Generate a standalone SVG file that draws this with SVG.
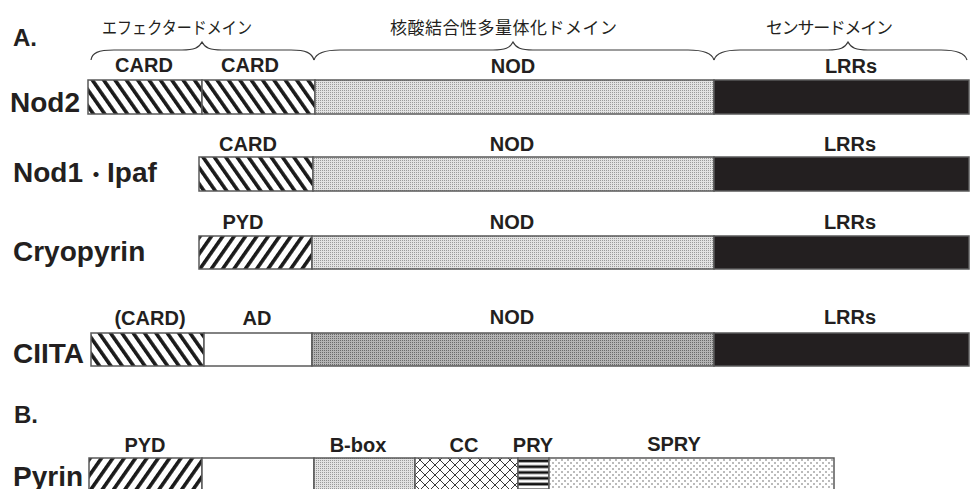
<svg xmlns="http://www.w3.org/2000/svg" width="971" height="489" viewBox="0 0 971 489">
<style>
.lbl{font-family:"Liberation Sans",Arial,sans-serif;font-weight:bold;font-size:28px;fill:#231f20}
.sec{font-family:"Liberation Sans",Arial,sans-serif;font-weight:bold;font-size:24px;fill:#231f20}
.dom{font-family:"Liberation Sans",Arial,sans-serif;font-weight:bold;font-size:20px;fill:#231f20;text-anchor:middle}
.jp{font-family:"Noto Sans CJK JP","Noto Sans CJK SC",sans-serif;font-size:17px;fill:#231f20}
.seg{stroke:#5a5a5a;stroke-width:1.5}
.brace{fill:none;stroke:#3a3a3a;stroke-width:1.2}
</style>
<defs>
<pattern id="hatchBack" patternUnits="userSpaceOnUse" width="9.3" height="20" patternTransform="rotate(-35)">
<rect width="9.3" height="20" fill="#fff"/><rect width="3.6" height="20" fill="#1a1a1a"/>
</pattern>
<pattern id="hatchFwd" patternUnits="userSpaceOnUse" width="9.3" height="20" patternTransform="rotate(35)">
<rect width="9.3" height="20" fill="#fff"/><rect width="3.6" height="20" fill="#1a1a1a"/>
</pattern>
<pattern id="nodLight" patternUnits="userSpaceOnUse" width="2" height="2">
<rect width="2" height="2" fill="#e2e2e2"/><rect width="1" height="1" fill="#9a9a9a"/>
</pattern>
<pattern id="nodDark" patternUnits="userSpaceOnUse" width="2" height="2">
<rect width="2" height="2" fill="#b4b4b4"/><rect width="1" height="1" fill="#6a6a6a"/>
</pattern>
<pattern id="cross" patternUnits="userSpaceOnUse" width="10" height="10">
<rect width="10" height="10" fill="#fff"/><path d="M0,0 L10,10 M10,0 L0,10" stroke="#222" stroke-width="0.9"/>
</pattern>
<pattern id="hstripe" patternUnits="userSpaceOnUse" width="10" height="5.8" y="458">
<rect width="10" height="5.8" fill="#fff"/><rect y="1.5" width="10" height="2.8" fill="#111"/>
</pattern>
<pattern id="dots" patternUnits="userSpaceOnUse" width="6" height="6">
<rect width="6" height="6" fill="#fff"/><circle cx="1" cy="1" r="0.75" fill="#555"/><circle cx="4" cy="4" r="0.75" fill="#555"/>
</pattern>
</defs>
<rect width="971" height="489" fill="#fff"/>

<text class="sec" x="13" y="46">A.</text>
<text class="sec" x="14" y="423">B.</text>

<g id="braces">
<text class="jp" x="102" y="34" textLength="150" lengthAdjust="spacingAndGlyphs">エフェクタードメイン</text>
<text class="jp" x="390" y="34" textLength="227" lengthAdjust="spacing">核酸結合性多量体化ドメイン</text>
<text class="jp" x="766" y="34" textLength="127" lengthAdjust="spacing">センサードメイン</text>
<path class="brace" d="M91,60 C92,53 98,50 114,50 L182,50 C194,50 199,48 202,42 C205,48 210,50 222,50 L291,50 C306,50 312,53 314,60"/>
<path class="brace" d="M314,60 C316,53 324,50 340,50 L493,50 C505,50 510,48 513,42 C516,48 521,50 533,50 L688,50 C704,50 712,53 714,60"/>
<path class="brace" d="M714,60 C716,53 724,50 740,50 L828,50 C840,50 845,48 848,42 C851,48 856,50 868,50 L941,50 C957,50 965,53 967,60"/>
</g>

<g id="nod2">
<text class="lbl" x="10" y="112">Nod2</text>
<text class="dom" x="144" y="72">CARD</text>
<text class="dom" x="250" y="72">CARD</text>
<text class="dom" x="513" y="73">NOD</text>
<text class="dom" x="851" y="73">LRRs</text>
<rect class="seg" x="88" y="80" width="114" height="34" fill="url(#hatchBack)"/>
<rect class="seg" x="202" y="80" width="113" height="34" fill="url(#hatchBack)"/>
<rect class="seg" x="315" y="80" width="399" height="34" fill="url(#nodLight)"/>
<rect class="seg" x="714" y="80" width="255" height="34" fill="#231f20"/>
</g>

<g id="nod1">
<text class="lbl" x="13" y="182"><tspan>Nod1</tspan><tspan x="86" font-family="'Noto Sans CJK JP',sans-serif" font-size="20">・</tspan><tspan x="107">Ipaf</tspan></text>
<text class="dom" x="248" y="151">CARD</text>
<text class="dom" x="512" y="151">NOD</text>
<text class="dom" x="850" y="151">LRRs</text>
<rect class="seg" x="199" y="157" width="114" height="34" fill="url(#hatchBack)"/>
<rect class="seg" x="313" y="157" width="401" height="34" fill="url(#nodLight)"/>
<rect class="seg" x="714" y="157" width="255" height="34" fill="#231f20"/>
</g>

<g id="cryopyrin">
<text class="lbl" x="13" y="261">Cryopyrin</text>
<text class="dom" x="243" y="229">PYD</text>
<text class="dom" x="512" y="229">NOD</text>
<text class="dom" x="850" y="229">LRRs</text>
<rect class="seg" x="199" y="236" width="113" height="33" fill="url(#hatchFwd)"/>
<rect class="seg" x="312" y="236" width="402" height="33" fill="url(#nodLight)"/>
<rect class="seg" x="714" y="236" width="255" height="33" fill="#231f20"/>
</g>

<g id="ciita">
<text class="lbl" x="13" y="363">CIITA</text>
<text class="dom" x="150" y="325">(CARD)</text>
<text class="dom" x="257" y="325">AD</text>
<text class="dom" x="512" y="324">NOD</text>
<text class="dom" x="850" y="324">LRRs</text>
<rect class="seg" x="91" y="333" width="113" height="33" fill="url(#hatchBack)"/>
<rect class="seg" x="204" y="333" width="108" height="33" fill="#fff"/>
<rect class="seg" x="312" y="333" width="402" height="33" fill="url(#nodDark)"/>
<rect class="seg" x="714" y="333" width="255" height="33" fill="#231f20"/>
</g>

<g id="pyrin">
<text class="lbl" x="13" y="486">Pyrin</text>
<text class="dom" x="145" y="452">PYD</text>
<text class="dom" x="358" y="452">B-box</text>
<text class="dom" x="464" y="452">CC</text>
<text class="dom" x="533" y="452">PRY</text>
<text class="dom" x="674" y="451">SPRY</text>
<rect class="seg" x="89" y="458" width="113" height="40" fill="url(#hatchFwd)"/>
<rect class="seg" x="202" y="458" width="112" height="40" fill="#fff"/>
<rect class="seg" x="314" y="458" width="101" height="40" fill="url(#nodLight)"/>
<rect class="seg" x="415" y="458" width="103" height="40" fill="url(#cross)"/>
<rect class="seg" x="518" y="458" width="31" height="40" fill="url(#hstripe)"/>
<rect class="seg" x="549" y="458" width="285" height="40" fill="url(#dots)"/>
</g>
</svg>
